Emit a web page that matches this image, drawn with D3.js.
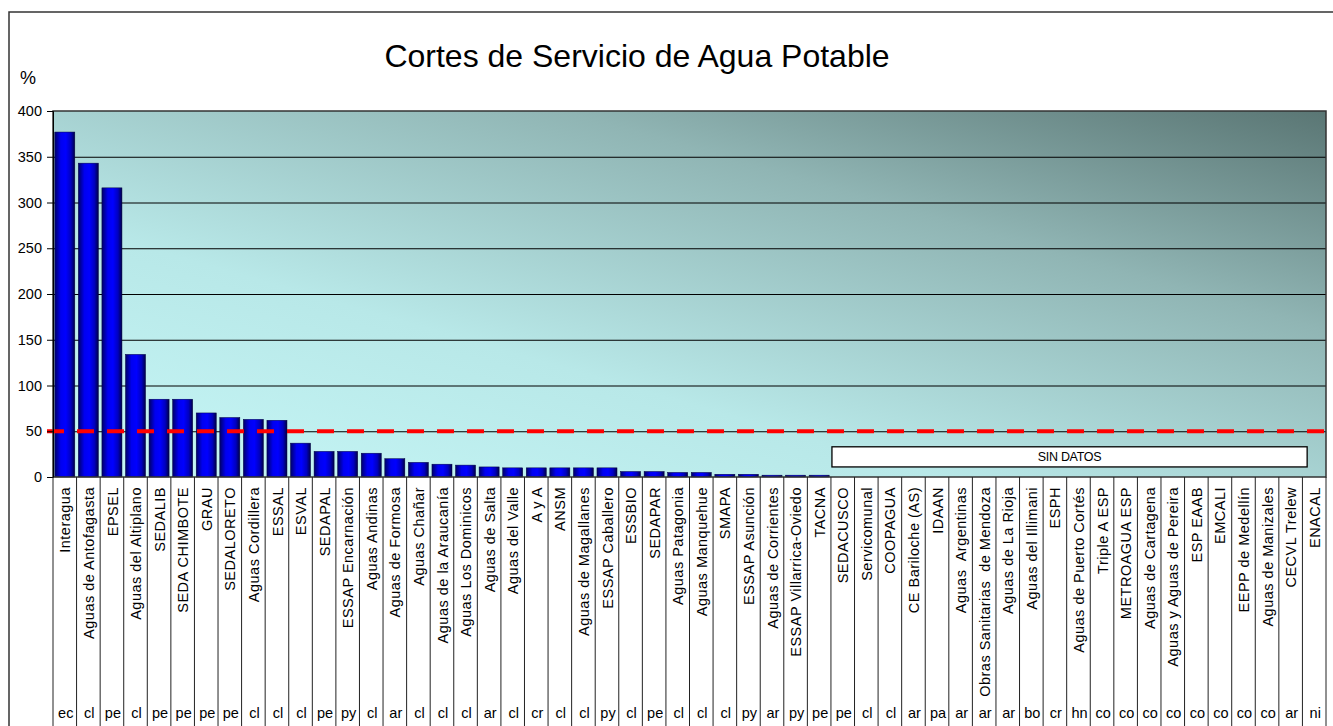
<!DOCTYPE html>
<html><head><meta charset="utf-8">
<script src="https://cdn.jsdelivr.net/npm/d3@7/dist/d3.min.js"></script>
<style>
html,body{margin:0;padding:0;background:#fff;}
svg{display:block;font-family:Arial,"Liberation Sans",sans-serif;}
</style></head><body>
<svg id="chart" width="1333" height="726"></svg>
<script>
const categories = ["Interagua","Aguas de Antofagasta","EPSEL","Aguas del Altiplano","SEDALIB","SEDA CHIMBOTE","GRAU","SEDALORETO","Aguas Cordillera","ESSAL","ESVAL","SEDAPAL","ESSAP Encarnación","Aguas Andinas","Aguas de Formosa","Aguas Chañar","Aguas de la Araucanía","Aguas Los Dominicos","Aguas de Salta","Aguas del Valle","A y A","ANSM","Aguas de Magallanes","ESSAP Caballero","ESSBIO","SEDAPAR","Aguas Patagonia","Aguas Manquehue","SMAPA","ESSAP Asunción","Aguas de Corrientes","ESSAP Villarrica-Oviedo","TACNA","SEDACUSCO","Servicomunal","COOPAGUA","CE Bariloche (AS)","IDAAN","Aguas  Argentinas","Obras Sanitarias  de Mendoza","Aguas de La Rioja","Aguas del Illimani","ESPH","Aguas de Puerto Cortés","Triple A ESP","METROAGUA ESP","Aguas de Cartagena","Aguas y Aguas de Pereira","ESP EAAB","EMCALI","EEPP de Medellín","Aguas de Manizales","CECVL Trelew","ENACAL"];
const countries = ["ec","cl","pe","cl","pe","pe","pe","pe","cl","cl","cl","pe","py","cl","ar","cl","cl","cl","ar","cl","cr","cl","cl","py","cl","pe","cl","cl","cl","py","ar","py","pe","pe","cl","cl","ar","pa","ar","ar","ar","bo","cr","hn","co","co","co","co","co","co","co","co","ar","ni"];
const values = [377,343,316,134,85,85,70,65,63,62,37,28,28,26,20,16,14,13,11,10,10,10,10,10,6,6,5,5,3,3,2,2,2,null,null,null,null,null,null,null,null,null,null,null,null,null,null,null,null,null,null,null,null,null];
const yTicks = [0,50,100,150,200,250,300,350,400];
const referenceValue = 50;
const title = "Cortes de Servicio de Agua Potable";
const yUnit = "%";
const noDataLabel = "SIN DATOS";

const svg = d3.select("#chart");
const W = 1333, H = 726;
const pLeft = 53, pRight = 1326, pTop = 111, pBottom = 477;

const x = d3.scaleBand().domain(categories).range([pLeft, pRight]).paddingInner(0.15).paddingOuter(0.075);
const y = d3.scaleLinear().domain([0, 400]).range([pBottom, pTop]);
const step = x.step();
const bandStart = c => x(c) - step * x.paddingInner() / 2;

const defs = svg.append("defs");
const bg = defs.append("linearGradient").attr("id","bg").attr("x1",0).attr("y1",1).attr("x2",1).attr("y2",0);
bg.append("stop").attr("offset","0").attr("stop-color","#c6f7f7");
bg.append("stop").attr("offset","0.35").attr("stop-color","#b8e8e8");
bg.append("stop").attr("offset","0.7").attr("stop-color","#90b5b4");
bg.append("stop").attr("offset","1").attr("stop-color","#5a7674");
const bar = defs.append("linearGradient").attr("id","bar").attr("x1",0).attr("y1",0).attr("x2",1).attr("y2",0);
bar.append("stop").attr("offset","0").attr("stop-color","#000068");
bar.append("stop").attr("offset","0.3").attr("stop-color","#0000f0");
bar.append("stop").attr("offset","0.55").attr("stop-color","#0000ff");
bar.append("stop").attr("offset","0.8").attr("stop-color","#0000c0");
bar.append("stop").attr("offset","1").attr("stop-color","#000048");

// outer frame
svg.append("rect").attr("x",9).attr("y",12).attr("width",1340).attr("height",740)
  .attr("fill","#fff").attr("stroke","#333").attr("stroke-width",1.5);

// title
svg.append("text").attr("x",637).attr("y",67).attr("text-anchor","middle")
  .attr("font-size",32).attr("fill","#000").text(title);
svg.append("text").attr("x",20).attr("y",84).attr("font-size",18).text(yUnit);

// plot area
svg.append("rect").attr("x",pLeft).attr("y",pTop).attr("width",pRight-pLeft).attr("height",pBottom-pTop)
  .attr("fill","url(#bg)");

// gridlines
svg.append("g").attr("transform",`translate(${pLeft},0)`)
  .call(d3.axisLeft(y).tickValues(yTicks.filter(t=>t>0&&t<400)).tickSize(-(pRight-pLeft)).tickFormat(""))
  .call(g=>g.select(".domain").remove())
  .call(g=>g.selectAll("line").attr("stroke","#000").attr("stroke-width",1));

// bars
svg.append("g").selectAll("rect").data(categories.map((c,i)=>({c,v:values[i]})).filter(d=>d.v!=null))
  .join("rect")
  .attr("x",d=>x(d.c)).attr("width",x.bandwidth())
  .attr("y",d=>y(d.v)).attr("height",d=>y(0)-y(d.v))
  .attr("fill","url(#bar)").attr("stroke","#000040").attr("stroke-width",0.5);

// no data box
const firstNull = categories[values.findIndex(v=>v==null)];
const lastCat = categories[categories.length-1];
const boxX0 = bandStart(firstNull)+1, boxX1 = bandStart(lastCat)+step*0.2;
svg.append("rect").attr("x",boxX0).attr("y",y(33))
  .attr("width",boxX1-boxX0).attr("height",y(11)-y(33))
  .attr("fill","#fff").attr("stroke","#000").attr("stroke-width",1.3);
svg.append("text").attr("x",(boxX0+boxX1)/2).attr("y",(y(11)+y(33))/2)
  .attr("dy","0.36em").attr("text-anchor","middle").attr("font-size",12.5).attr("letter-spacing","-0.3")
  .text(noDataLabel);

// reference line
svg.append("line").attr("x1",47).attr("x2",W).attr("y1",y(referenceValue)).attr("y2",y(referenceValue))
  .attr("stroke","#ff0000").attr("stroke-width",4).attr("stroke-dasharray","17 13");

// plot border
svg.append("rect").attr("x",pLeft).attr("y",pTop).attr("width",pRight-pLeft).attr("height",pBottom-pTop)
  .attr("fill","none").attr("stroke","#333").attr("stroke-width",1.5);

// y axis
svg.append("g").attr("transform",`translate(${pLeft},0)`)
  .call(d3.axisLeft(y).tickValues(yTicks).tickSize(6).tickPadding(5))
  .call(g=>g.select(".domain").attr("stroke","#000"))
  .call(g=>g.selectAll("line").attr("stroke","#000"))
  .call(g=>g.selectAll("text").attr("font-size",14.5).attr("font-family","Arial,'Liberation Sans',sans-serif").attr("fill","#000"));

// category separators
const seps = categories.map(c=>bandStart(c)).concat([pRight]);
svg.append("g").selectAll("line").data(seps).join("line")
  .attr("x1",d=>d).attr("x2",d=>d).attr("y1",pBottom).attr("y2",H)
  .attr("stroke","#222").attr("stroke-width",1);

// category labels
svg.append("g").selectAll("text").data(categories).join("text")
  .attr("transform",c=>`translate(${x(c)+x.bandwidth()/2+0.5},487) rotate(-90)`)
  .attr("text-anchor","end").attr("dy","0.35em").attr("font-size",14.5).attr("letter-spacing","0.5")
  .style("white-space","pre")
  .text(c=>c);

// country labels
svg.append("g").selectAll("text").data(categories).join("text")
  .attr("x",(c)=>x(c)+x.bandwidth()/2+1).attr("y",718)
  .attr("text-anchor","middle").attr("font-size",14.5)
  .text((c,i)=>countries[i]);
</script></body></html>
